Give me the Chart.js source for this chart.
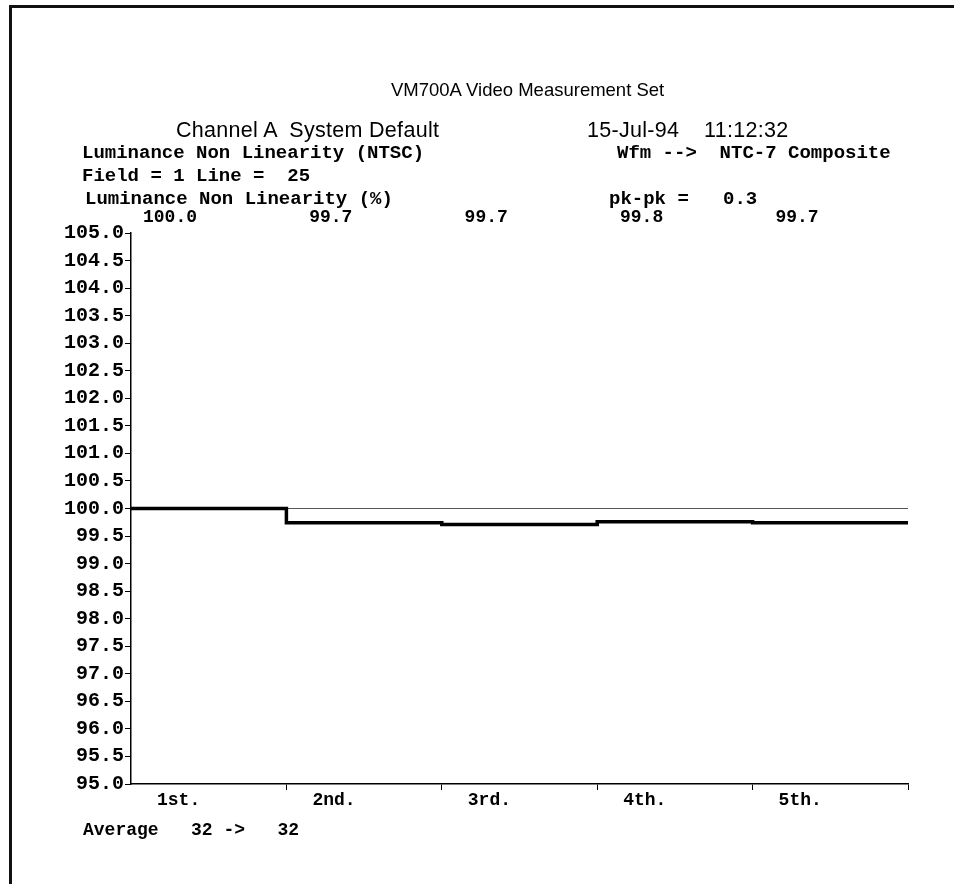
<!DOCTYPE html>
<html>
<head>
<meta charset="utf-8">
<script src="https://cdn.jsdelivr.net/npm/chart.js@4.4.0/dist/chart.umd.min.js"></script>
<style>
  html, body { margin: 0; padding: 0; background: #fff; }
  #wrap { position: relative; width: 954px; height: 884px; overflow: hidden; }
  #frame { position: absolute; left: 9px; top: 5px; width: 990px; height: 950px;
           border-left: 3px solid #111; border-top: 3px solid #111; }
  canvas { position: absolute; left: 0; top: 0; }
  .t { position: absolute; white-space: pre; color: #000; line-height: 1; }
  .sans { font-family: 'Liberation Sans', Arial, sans-serif; font-size: 18.5px; }
  .sub { font-size: 21.5px; letter-spacing: 0.3px; }
  .mono { font-family: 'Courier New', 'Liberation Mono', monospace; font-weight: bold; font-size: 19px; }
  .small { font-size: 18px; }
</style>
</head>
<body>
<div id="wrap">
  <div id="frame"></div>
  <canvas id="graphCanvas" width="954" height="884"></canvas>
  <div class="t sans" style="left:391px; top:81px;">VM700A Video Measurement Set</div>
  <div class="t sans sub" style="left:176px; top:120px;">Channel A  System Default</div>
  <div class="t sans sub" style="left:587px; top:120px;">15-Jul-94</div>
  <div class="t sans sub" style="left:704px; top:120px;">11:12:32</div>
  <div class="t mono" style="left:82px; top:144px;">Luminance Non Linearity (NTSC)</div>
  <div class="t mono" style="left:617px; top:144px;">Wfm -->  NTC-7 Composite</div>
  <div class="t mono" style="left:82px; top:167px;">Field = 1 Line =  25</div>
  <div class="t mono" style="left:85px; top:190px;">Luminance Non Linearity (%)</div>
  <div class="t mono" style="left:609px; top:190px;">pk-pk =   0.3</div>
  <div class="t mono small" style="left:83px; top:821px;">Average   32 ->   32</div>
</div>
<script>
// readings per field
var categories = ['1st.', '2nd.', '3rd.', '4th.', '5th.'];
var lumValues = [100.0, 99.74, 99.71, 99.76, 99.74];
var refValue = 100.0;
var yMin = 95.0;
var yMax = 105.0;
var yStep = 0.5;

var monoFont = "'Courier New', 'Liberation Mono', monospace";

function showGraph()
{
    var steps = [];
    for (var i in lumValues) {
        steps.push({x: Number(i), y: lumValues[i]});
    }
    steps.push({x: categories.length, y: lumValues[lumValues.length - 1]});

    var refLine = [{x: 0, y: refValue}, {x: categories.length, y: refValue}];

    // value printed over each field
    var valueLabels = {
        id: 'valueLabels',
        afterDraw: function (chart) {
            var ctx = chart.ctx;
            var xs = chart.scales.x;
            ctx.save();
            ctx.font = 'bold 18px ' + monoFont;
            ctx.fillStyle = '#000';
            ctx.textAlign = 'right';
            ctx.textBaseline = 'middle';
            for (var i = 0; i < lumValues.length; i++) {
                ctx.fillText(lumValues[i].toFixed(1), xs.getPixelForValue(i) + 66, 217);
            }
            ctx.restore();
        }
    };

    var chartdata = {
        datasets: [
            {
                label: 'Luminance Non Linearity (%)',
                data: steps,
                stepped: 'before',
                borderColor: '#000',
                borderWidth: 3.5,
                pointRadius: 0
            },
            {
                label: 'reference',
                data: refLine,
                borderColor: '#555',
                borderWidth: 1.2,
                pointRadius: 0
            }
        ]
    };

    var graphTarget = document.getElementById('graphCanvas');

    new Chart(graphTarget, {
        type: 'line',
        data: chartdata,
        plugins: [valueLabels],
        options: {
            responsive: false,
            animation: false,
            layout: { padding: { left: 0, top: 233, right: 46, bottom: 70 }, autoPadding: false },
            plugins: { legend: { display: false }, tooltip: { enabled: false } },
            scales: {
                x: {
                    type: 'linear',
                    min: 0,
                    max: categories.length,
                    afterFit: function (s) { s.height = 30; },
                    border: { color: '#000', width: 1.5 },
                    grid: {
                        drawOnChartArea: false,
                        tickLength: 6,
                        color: '#000',
                        tickColor: function (c) { return c.index === 0 ? 'rgba(0,0,0,0)' : '#000'; }
                    },
                    ticks: {
                        stepSize: 1,
                        autoSkip: false,
                        maxRotation: 0,
                        align: 'start',
                        labelOffset: 26,
                        padding: 0,
                        color: '#000',
                        font: { family: monoFont, size: 18, weight: 'bold' },
                        callback: function (v) { return categories[v] || ''; }
                    }
                },
                y: {
                    min: yMin,
                    max: yMax,
                    afterFit: function (s) { s.width = 131; },
                    border: { color: '#000', width: 1.5 },
                    grid: { drawOnChartArea: false, tickLength: 6, color: '#000' },
                    ticks: {
                        stepSize: yStep,
                        padding: 1,
                        color: '#000',
                        font: { family: monoFont, size: 20, weight: 'bold' },
                        callback: function (v) { return v.toFixed(1); }
                    }
                }
            }
        }
    });
}

showGraph();
</script>
</body>
</html>
